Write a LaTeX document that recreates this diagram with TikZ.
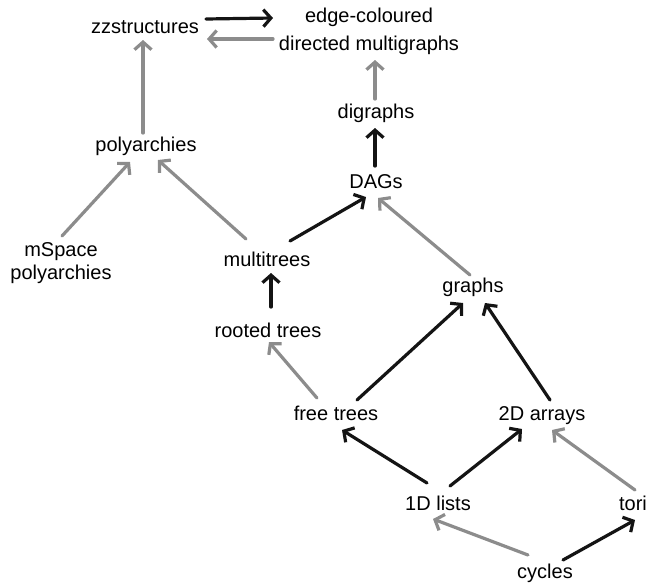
\documentclass[tikz,border=0pt]{standalone}
\usepackage{fontspec}
\setmainfont{Liberation Sans}
\usetikzlibrary{arrows.meta}
\definecolor{edgegray}{HTML}{8C8C8C}
\definecolor{edgeblack}{HTML}{141414}
\tikzset{
  lbl/.style={inner sep=0pt, font=\fontsize{20}{24}\selectfont, text=black},
  arr/.style={line width=3.2pt, -{Straight Barb[length=7.5pt,width=17pt,line width=3.2pt]}, line cap=round},
  garr/.style={arr, draw=edgegray},
  barr/.style={arr, draw=edgeblack},
}
\begin{document}
\begin{tikzpicture}[x=1pt,y=-1pt]
\useasboundingbox[fill=white] (0,0) rectangle (646,587);
\node[lbl] (zz) at (145,27) {zzstructures};
\node[lbl, align=center, font=\fontsize{20}{28}\selectfont] (emg) at (369,31) {edge-coloured\\directed multigraphs};
\node[lbl] (digraphs) at (376,113) {digraphs};
\node[lbl] (dags) at (376,182) {DAGs};
\node[lbl] (poly) at (146,146) {polyarchies};
\node[lbl, align=center, font=\fontsize{20}{23}\selectfont] (msp) at (61,263) {mSpace\\polyarchies};
\node[lbl] (mt) at (267,259) {multitrees};
\node[lbl] (graphs) at (473,287) {graphs};
\node[lbl] (rooted) at (268,330) {rooted trees};
\node[lbl] (free) at (336,413) {free trees};
\node[lbl] (arrays) at (542,416) {2D arrays};
\node[lbl] (lists) at (438,503) {1D lists};
\node[lbl] (tori) at (633,503) {tori};
\node[lbl] (cycles) at (545,573) {cycles};

\draw[barr] ([shift={(61,-8)}]zz.center) -- ([shift={(-96,-13)}]emg.center);
\draw[garr] ([shift={(-96,8)}]emg.center) -- ([shift={(62,12)}]zz.center);
\draw[garr] ([shift={(-3,-13)}]poly.center) -- ([shift={(-2,13)}]zz.center);
\draw[garr] ([shift={(-1,-14)}]digraphs.center) -- ([shift={(6,29)}]emg.center);
\draw[barr] ([shift={(-1,-16)}]dags.center) -- ([shift={(-1,15)}]digraphs.center);
\draw[garr] ([shift={(1,-27)}]msp.center) -- ([shift={(-16,16)}]poly.center);
\draw[garr] ([shift={(-21,-20)}]mt.center) -- ([shift={(12,14)}]poly.center);
\draw[barr] ([shift={(23,-18)}]mt.center) -- ([shift={(-10,15)}]dags.center);
\draw[garr] ([shift={(-3,-12)}]graphs.center) -- ([shift={(2,16)}]dags.center);
\draw[barr] ([shift={(3,-23)}]rooted.center) -- ([shift={(4,14)}]mt.center);
\draw[garr] ([shift={(-19,-15)}]free.center) -- ([shift={(1,12)}]rooted.center);
\draw[barr] ([shift={(21,-13)}]free.center) -- ([shift={(-10,16)}]graphs.center);
\draw[barr] ([shift={(8,-16)}]arrays.center) -- ([shift={(12,16)}]graphs.center);
\draw[barr] ([shift={(-11,-20)}]lists.center) -- ([shift={(6,17)}]free.center);
\draw[barr] ([shift={(12,-17)}]lists.center) -- ([shift={(-20,13)}]arrays.center);
\draw[garr] ([shift={(2,-13)}]tori.center) -- ([shift={(10,14)}]arrays.center);
\draw[garr] ([shift={(-17,-18)}]cycles.center) -- ([shift={(-5,16)}]lists.center);
\draw[barr] ([shift={(18,-13)}]cycles.center) -- ([shift={(2,17)}]tori.center);
\end{tikzpicture}
\end{document}
